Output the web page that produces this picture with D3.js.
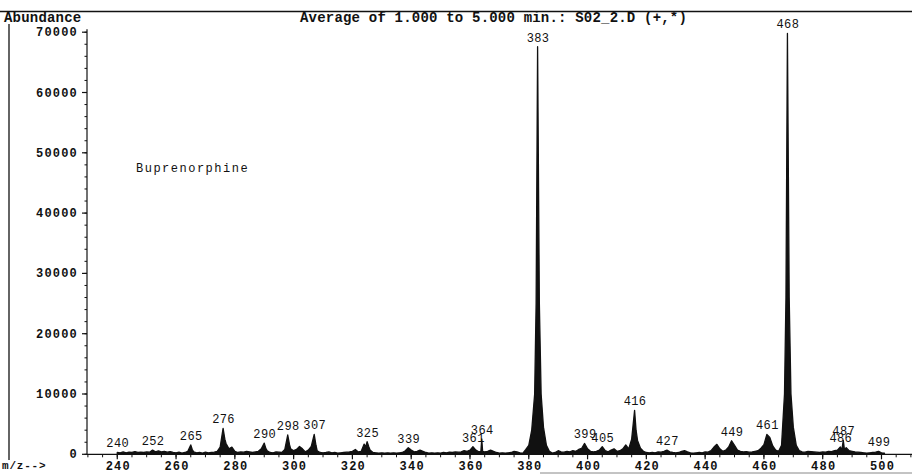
<!DOCTYPE html>
<html>
<head>
<meta charset="utf-8">
<script src="https://cdn.jsdelivr.net/npm/d3@7"></script>
<style>
  body { margin: 0; background: #fff; }
  svg { display: block; }
  text { font-family: "Liberation Mono", "DejaVu Sans Mono", monospace; fill: #111; }
</style>
</head>
<body>
<svg width="912" height="474"></svg>
<script>
// spectrum profile: [m/z, abundance]
const profile = [
  [240,300],[241,250],[242,400],[243,250],[244,350],[245,300],[246,450],[247,300],[248,350],[249,300],
  [250,400],[251,350],[252,700],[253,400],[254,550],[255,400],[256,500],[257,350],[258,450],[259,300],
  [260,250],[261,350],[262,200],[263,300],[264,500],[265,1550],[265.5,800],[266,400],[267,250],[268,300],
  [269,200],[270,350],[271,250],[272,300],[273,350],[274,500],[275,1200],[276,4300],[276.6,2500],[277,1800],
  [278,900],[279,1200],[280,500],[281,300],[282,400],[283,350],[284,500],[285,400],[286,300],[287,400],
  [288,500],[289,900],[290,1850],[290.6,900],[291,600],[292,300],[293,250],[294,400],[295,350],[296,300],
  [297,800],[298,3200],[298.6,1600],[299,900],[300,600],[301,800],[302,1300],[303,900],[304,400],[305,700],
  [306,1300],[307,3300],[307.6,1500],[308,600],[309,300],[310,250],[311,300],[312,400],[313,250],[314,300],
  [315,200],[316,250],[317,300],[318,350],[319,400],[320,500],[321,800],[322,400],[323,500],[324,1700],
  [324.5,1200],[325,2100],[325.6,1200],[326,700],[327,300],[328,250],[329,200],[330,250],[331,200],[332,250],
  [333,200],[334,250],[335,200],[336,250],[337,300],[338,600],[339,1100],[340,700],[341,400],[342,500],
  [343,700],[344,500],[345,300],[346,200],[347,250],[348,200],[349,250],[350,200],[351,300],[352,250],
  [353,350],[354,300],[355,400],[356,350],[357,400],[358,600],[359,500],[360,700],[361,1250],[362,700],
  [363,400],[363.7,500],[364,2550],[364.3,500],[365,400],[366,500],[367,700],[368,500],[369,300],[370,200],
  [371,250],[372,200],[373,250],[374,300],[375,500],[376,400],[377,250],[378,200],[379,800],[380,1500],
  [381,4000],[382,10000],[382.5,25000],[383,67600],[383.6,25000],[384.2,10000],[385,4500],[386,1500],[387,500],
  [388,200],[389,300],[390,600],[391,400],[392,350],[393,500],[394,400],[395,600],[396,500],[397,800],
  [398,1000],[399,1800],[400,900],[401,500],[402,400],[403,500],[404,700],[405,1250],[406,600],[407,400],
  [408,700],[409,900],[410,500],[411,600],[412,900],[413,1550],[414,900],[415,2500],[416,7300],[416.5,4000],
  [417,2300],[418,1000],[419,500],[420,300],[421,250],[422,300],[423,250],[424,400],[425,350],[426,500],
  [427,700],[428,400],[429,300],[430,250],[431,300],[432,500],[433,600],[434,400],[435,250],[436,200],
  [437,250],[438,300],[439,250],[440,400],[441,350],[442,600],[443,1200],[444,1650],[445,900],[446,500],
  [447,700],[448,1200],[449,2250],[450,1500],[451,700],[452,500],[453,400],[454,450],[455,350],[456,400],
  [457,500],[458,600],[459,1000],[460,1600],[461,3300],[462,2800],[463,1400],[464,700],[465,500],[466,1500],
  [467,10000],[467.5,26000],[468,69800],[468.6,26000],[469.2,10000],[470,4500],[471,1500],[472,600],[473,400],
  [474,350],[475,500],[476,450],[477,400],[478,350],[479,300],[480,400],[481,350],[482,500],[483,450],
  [484,600],[485,700],[486,1200],[486.5,700],[487,2300],[487.4,800],[488,1100],[489,600],[490,500],[491,400],
  [492,350],[493,300],[494,250],[495,200],[496,250],[497,300],[498,350],[499,500],[500,250],[501,200]
]

const peakLabels = [240, 252, 265, 276, 290, 298, 307, 325, 339, 361, 364, 383,
                    399, 405, 416, 427, 449, 461, 468, 486, 487, 499]

const xTicks = [240, 260, 280, 300, 320, 340, 360, 380, 400, 420, 440, 460, 480, 500]
const yTicks = [0, 10000, 20000, 30000, 40000, 50000, 60000, 70000]

const title = 'Average of 1.000 to 5.000 min.: S02_2.D (+,*)'
const compound = 'Buprenorphine'

const svg = d3.select('svg')

const x = d3.scaleLinear().domain([229.7, 509.7]).range([87, 910])
const y = d3.scaleLinear().domain([0, 70000]).range([454.3, 32.2])

// frame
svg.append('line').attr('x1', 0).attr('x2', 912).attr('y1', 11.5).attr('y2', 11.5)
   .attr('stroke', '#111').attr('stroke-width', 1.3)
svg.append('line').attr('x1', 9).attr('x2', 9).attr('y1', 24).attr('y2', 460)
   .attr('stroke', '#111').attr('stroke-width', 1.3)
svg.append('line').attr('x1', 540).attr('x2', 912).attr('y1', 473).attr('y2', 473)
   .attr('stroke', '#888').attr('stroke-width', 1)

svg.append('text').attr('x', 4).attr('y', 22)
   .style('font-size', '14px').style('font-weight', 'bold').style('letter-spacing', '0.2px')
   .text('Abundance')
svg.append('text').attr('x', 300).attr('y', 22)
   .style('font-size', '14px').style('font-weight', 'bold').style('letter-spacing', '0.2px')
   .text(title)
svg.append('text').attr('x', 136).attr('y', 172)
   .style('font-size', '12px').style('letter-spacing', '1.5px')
   .text(compound)
svg.append('text').attr('x', 2).attr('y', 469)
   .style('font-size', '11px').style('font-weight', 'bold').style('letter-spacing', '0.8px')
   .text('m/z-->')

// y axis
const yAxis = svg.append('g').attr('transform', 'translate(87,0)')
yAxis.append('line').attr('y1', y(70000) - 3).attr('y2', y(0)).attr('stroke', '#111').attr('stroke-width', 1.2)
yAxis.selectAll('.minor').data(d3.range(0, 70001, 2000)).join('line')
     .attr('x1', -2.5).attr('x2', 0).attr('y1', d => y(d)).attr('y2', d => y(d))
     .attr('stroke', '#111')
yAxis.selectAll('.major').data(yTicks).join('line')
     .attr('x1', -5).attr('x2', 0).attr('y1', d => y(d)).attr('y2', d => y(d))
     .attr('stroke', '#111').attr('stroke-width', 1.2)
yAxis.selectAll('text').data(yTicks).join('text')
     .attr('x', -9).attr('y', d => y(d) + 4)
     .attr('text-anchor', 'end')
     .style('font-size', '12px').style('font-weight', 'bold').style('letter-spacing', '1.2px')
     .text(d => d)

// x axis
const xAxis = svg.append('g').attr('transform', `translate(0,${y(0)})`)
xAxis.append('line').attr('x1', 87).attr('x2', 912).attr('stroke', '#111').attr('stroke-width', 1.3)
xAxis.selectAll('.minor').data(d3.range(230, 511, 5)).join('line')
     .attr('x1', d => x(d)).attr('x2', d => x(d)).attr('y1', 0).attr('y2', 3)
     .attr('stroke', '#111')
xAxis.selectAll('.major').data(xTicks).join('line')
     .attr('x1', d => x(d)).attr('x2', d => x(d)).attr('y1', 0).attr('y2', 5)
     .attr('stroke', '#111').attr('stroke-width', 1.2)
xAxis.selectAll('text').data(xTicks).join('text')
     .attr('x', d => x(d) + 1).attr('y', 16)
     .attr('text-anchor', 'middle')
     .style('font-size', '12px').style('font-weight', 'bold').style('letter-spacing', '1.2px')
     .text(d => d)

// spectrum
const area = d3.area()
  .x(d => x(d[0]))
  .y0(y(0))
  .y1(d => y(d[1]))

svg.append('path').datum(profile)
   .attr('d', area)
   .attr('fill', '#111')
   .attr('stroke', '#111')
   .attr('stroke-width', 1.3)
   .attr('stroke-linejoin', 'round')

// peak labels
const abundanceAt = new Map(profile)
svg.selectAll('.peak').data(peakLabels).join('text')
   .attr('class', 'peak')
   .attr('x', d => x(d) + 0.5)
   .attr('y', d => y(abundanceAt.get(d)) - 5)
   .attr('text-anchor', 'middle')
   .style('font-size', '12px').style('letter-spacing', '0.4px')
   .text(d => d)
</script>
</body>
</html>
